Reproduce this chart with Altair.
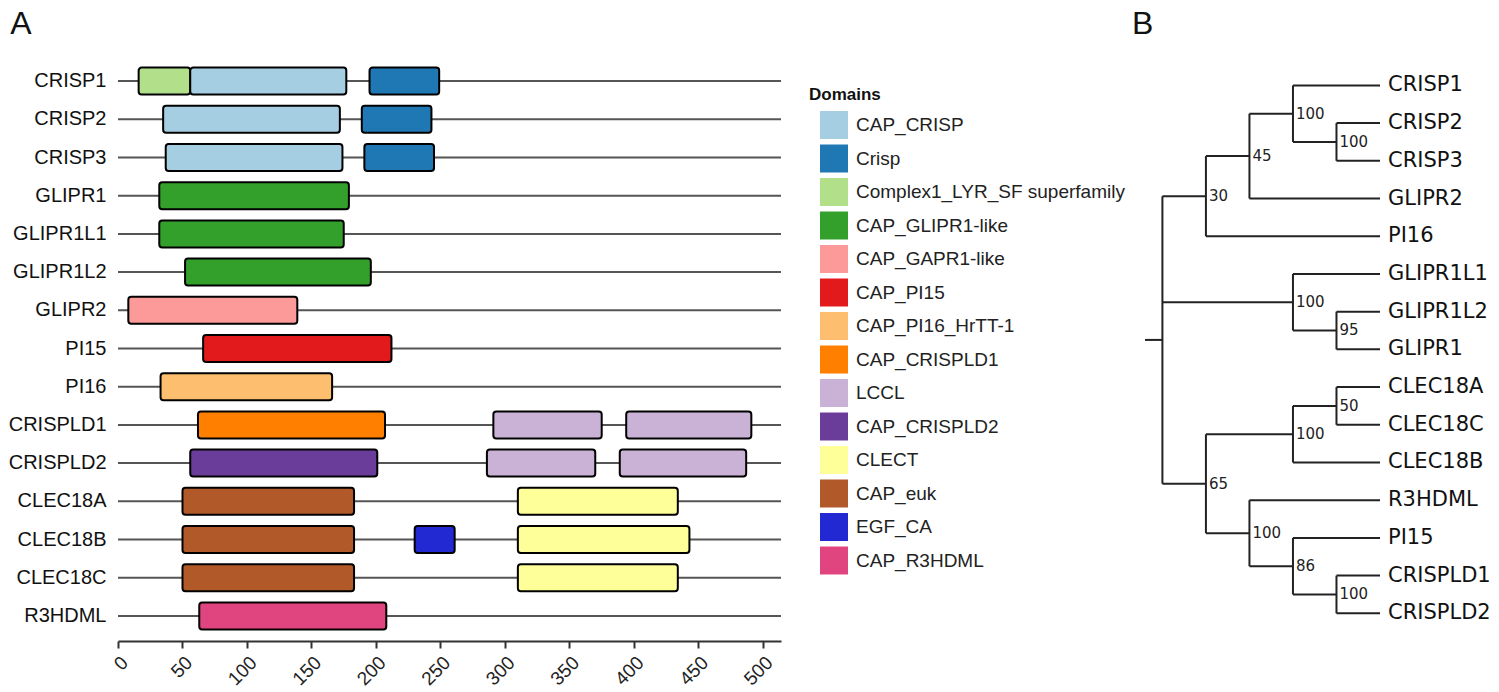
import altair as alt
import pandas as pd

# ---------------- Panel A data ----------------
proteins = ["CRISP1", "CRISP2", "CRISP3", "GLIPR1", "GLIPR1L1", "GLIPR1L2", "GLIPR2",
            "PI15", "PI16", "CRISPLD1", "CRISPLD2", "CLEC18A", "CLEC18B", "CLEC18C", "R3HDML"]
backbone_end = [514] * 15

dom_protein = ["CRISP1", "CRISP1", "CRISP1",
               "CRISP2", "CRISP2",
               "CRISP3", "CRISP3",
               "GLIPR1", "GLIPR1L1", "GLIPR1L2", "GLIPR2", "PI15", "PI16",
               "CRISPLD1", "CRISPLD1", "CRISPLD1",
               "CRISPLD2", "CRISPLD2", "CRISPLD2",
               "CLEC18A", "CLEC18A",
               "CLEC18B", "CLEC18B", "CLEC18B",
               "CLEC18C", "CLEC18C",
               "R3HDML"]
dom_name = ["Complex1_LYR_SF superfamily", "CAP_CRISP", "Crisp",
            "CAP_CRISP", "Crisp",
            "CAP_CRISP", "Crisp",
            "CAP_GLIPR1-like", "CAP_GLIPR1-like", "CAP_GLIPR1-like", "CAP_GAPR1-like", "CAP_PI15", "CAP_PI16_HrTT-1",
            "CAP_CRISPLD1", "LCCL", "LCCL",
            "CAP_CRISPLD2", "LCCL", "LCCL",
            "CAP_euk", "CLECT",
            "CAP_euk", "EGF_CA", "CLECT",
            "CAP_euk", "CLECT",
            "CAP_R3HDML"]
dom_start = [16, 56, 195,
             35, 189,
             37, 191,
             32, 32, 52, 8, 66, 33,
             62, 291, 394,
             56, 286, 389,
             50, 310,
             50, 230, 310,
             50, 310,
             63]
dom_end = [56, 177, 249,
           172, 243,
           174, 245,
           179, 175, 196, 139, 212, 166,
           207, 375, 491,
           201, 370, 487,
           183, 434,
           183, 261, 443,
           183, 434,
           208]

legend_domains = ["CAP_CRISP", "Crisp", "Complex1_LYR_SF superfamily", "CAP_GLIPR1-like",
                  "CAP_GAPR1-like", "CAP_PI15", "CAP_PI16_HrTT-1", "CAP_CRISPLD1", "LCCL",
                  "CAP_CRISPLD2", "CLECT", "CAP_euk", "EGF_CA", "CAP_R3HDML"]
legend_colors = ["#a6cee3", "#1f78b4", "#b2df8a", "#33a02c", "#fb9a99", "#e31a1c", "#fdbf6f",
                 "#ff7f00", "#cab2d6", "#6a3d9a", "#ffff99", "#b15928", "#2229d3", "#e0457f"]
x_ticks = [0, 50, 100, 150, 200, 250, 300, 350, 400, 450, 500]

# ---------------- Panel B data (tree) ----------------
leaf_order = ["CRISP1", "CRISP2", "CRISP3", "GLIPR2", "PI16", "GLIPR1L1", "GLIPR1L2", "GLIPR1",
              "CLEC18A", "CLEC18C", "CLEC18B", "R3HDML", "PI15", "CRISPLD1", "CRISPLD2"]
leaf_parent = ["n100a", "n100b", "n100b", "n45", "n30", "nGL", "n95", "n95",
               "n50", "n50", "nCLEC", "nR3", "n86", "nLD", "nLD"]
node_ids = ["root", "n30", "n45", "n100a", "n100b", "nGL", "n95", "n65", "nCLEC", "n50", "nR3", "n86", "nLD"]
node_parent = [None, "root", "n30", "n45", "n100a", "root", "nGL", "root", "n65", "nCLEC", "n65", "nR3", "n86"]
node_depth = [0, 1, 2, 3, 4, 3, 4, 1, 3, 4, 2, 3, 4]
node_support = ["", "30", "45", "100", "100", "100", "95", "65", "100", "50", "100", "86", "100"]
leaf_depth = 5
root_stub = -0.4

# ---------------- Build tables ----------------
bb = pd.DataFrame({"protein": proteins, "start": [0] * len(proteins), "end": backbone_end})
dom = pd.DataFrame({"protein": dom_protein, "domain": dom_name, "start": dom_start, "end": dom_end})

ypos = {name: float(i) for i, name in enumerate(leaf_order)}
depth = {n: d for n, d in zip(node_ids, node_depth)}
for name in leaf_order:
    depth[name] = leaf_depth
parent = dict(zip(node_ids, node_parent))
parent.update(dict(zip(leaf_order, leaf_parent)))
children = {n: [] for n in node_ids}
for c, p in parent.items():
    if p is not None:
        children[p].append(c)


def get_y(n):
    if n in ypos:
        return ypos[n]
    ys = [get_y(c) for c in children[n]]
    ypos[n] = (min(ys) + max(ys)) / 2
    return ypos[n]


for n in node_ids:
    get_y(n)

segs = []
for n, p in parent.items():
    if p is not None:
        segs.append({"x": depth[p], "x2": depth[n], "y": ypos[n], "y2": ypos[n]})
for n in node_ids:
    ys = [ypos[c] for c in children[n]]
    segs.append({"x": depth[n], "x2": depth[n], "y": min(ys), "y2": max(ys)})
segs.append({"x": root_stub, "x2": 0, "y": ypos["root"], "y2": ypos["root"]})
seg_df = pd.DataFrame(segs)

leaf_df = pd.DataFrame({"name": leaf_order, "x": [leaf_depth] * len(leaf_order),
                        "y": [ypos[n] for n in leaf_order]})
boot_df = pd.DataFrame({"label": node_support, "x": node_depth,
                        "y": [ypos[n] for n in node_ids]})
boot_df = boot_df[boot_df["label"] != ""]

# ---------------- Panel A chart ----------------
A_W = 663
A_H = 573
yA = alt.Y("protein:N", sort=proteins,
           scale=alt.Scale(domain=proteins, paddingInner=0, paddingOuter=0),
           axis=alt.Axis(title=None, ticks=False, domain=False, labelFontSize=20,
                         labelFont="Liberation Sans", labelColor="#111", labelPadding=12))
xscaleA = alt.Scale(domain=[0, 514], nice=False, zero=False)
xaxisA = alt.Axis(title=None, values=x_ticks, labelAngle=315, labelFontSize=19,
                  labelFont="Liberation Sans", labelColor="#222", tickSize=7,
                  tickColor="#333", domainColor="#333", domainWidth=2, tickWidth=2,
                  grid=False, offset=6, labelPadding=5)

backbone = alt.Chart(bb).mark_rule(color="#555", strokeWidth=2).encode(
    x=alt.X("start:Q", scale=xscaleA, axis=xaxisA),
    x2="end:Q",
    y=yA,
)

boxes = alt.Chart(dom).mark_bar(height=27, cornerRadius=3, stroke="black", strokeWidth=2).encode(
    x=alt.X("start:Q", scale=xscaleA, axis=xaxisA),
    x2="end:Q",
    y=yA,
    color=alt.Color("domain:N",
                    scale=alt.Scale(domain=legend_domains, range=legend_colors),
                    legend=alt.Legend(title="Domains", orient="none", legendX=691, legendY=25,
                                      titleFontSize=17, titleFont="Liberation Sans",
                                      titleFontWeight="bold", titleColor="#111",
                                      titlePadding=7,
                                      symbolType="square", symbolSize=784,
                                      symbolStrokeWidth=0, symbolOpacity=1,
                                      labelFontSize=19, labelFont="Liberation Sans",
                                      labelColor="#222", labelLimit=400,
                                      rowPadding=5.5, symbolOffset=11, labelOffset=8,
                                      padding=0)),
)

chartA = alt.layer(backbone, boxes).properties(
    width=A_W, height=A_H,
    title=alt.TitleParams("A", anchor="start", frame="bounds", fontSize=32,
                          font="Liberation Sans", fontWeight="normal", color="#111",
                          offset=21, dx=2),
)

# ---------------- Panel B chart ----------------
B_W = 235
xscaleB = alt.Scale(domain=[root_stub, leaf_depth], nice=False, zero=False)
yscaleB = alt.Scale(domain=[-0.62, 14.575], nice=False, zero=False, reverse=True)

tree_lines = alt.Chart(seg_df).mark_rule(color="#222", strokeWidth=2).encode(
    x=alt.X("x:Q", scale=xscaleB, axis=None),
    x2="x2:Q",
    y=alt.Y("y:Q", scale=yscaleB, axis=None),
    y2="y2:Q",
)
leaf_text = alt.Chart(leaf_df).mark_text(align="left", baseline="middle", dx=8, fontSize=21,
                                         font="DejaVu Sans", color="#111").encode(
    x=alt.X("x:Q", scale=xscaleB, axis=None),
    y=alt.Y("y:Q", scale=yscaleB, axis=None),
    text="name:N",
)
boot_text = alt.Chart(boot_df).mark_text(align="left", baseline="middle", dx=3, fontSize=15,
                                         font="DejaVu Sans", color="#222").encode(
    x=alt.X("x:Q", scale=xscaleB, axis=None),
    y=alt.Y("y:Q", scale=yscaleB, axis=None),
    text="label:N",
)

chartB = alt.layer(tree_lines, leaf_text, boot_text).properties(
    width=B_W, height=A_H,
    title=alt.TitleParams("B", anchor="start", frame="bounds", fontSize=32,
                          font="Liberation Sans", fontWeight="normal", color="#111",
                          offset=21, dx=-12),
)

chart = alt.hconcat(chartA, chartB, spacing=350).properties(
    padding={"left": 0, "top": 0, "right": 0, "bottom": 0},
    background="white",
).configure_view(stroke=None, strokeWidth=0)

chart.save("out.html", embed_options={"renderer": "svg", "actions": False})
